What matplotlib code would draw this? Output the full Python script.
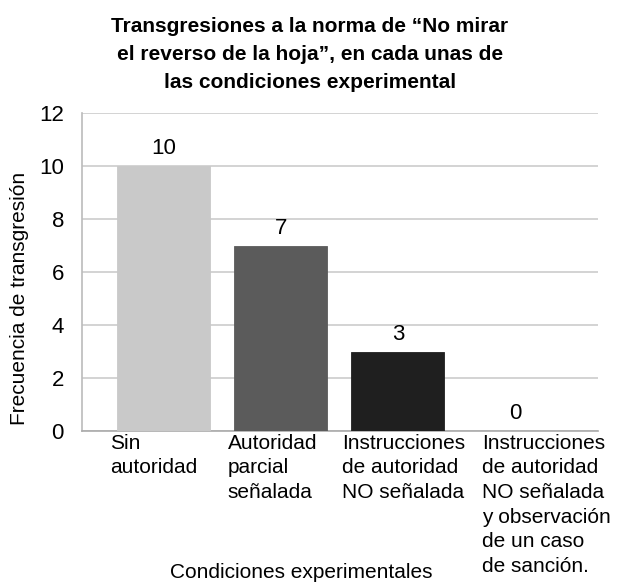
import matplotlib.pyplot as plt
import numpy as np

plt.rcParams['font.family'] = ['Liberation Sans', 'DejaVu Sans']

# datos
condiciones = ["Sin\nautoridad",
               "Autoridad\nparcial\nseñalada",
               "Instrucciones\nde autoridad\nNO señalada",
               "Instrucciones\nde autoridad\nNO señalada\ny observación\nde un caso\nde sanción."]
frecuencias = [10, 7, 3, 0]
colores = ['#c9c9c9', '#5b5b5b', '#1f1f1f', '#888888']

fig = plt.figure(figsize=(6.24, 5.86), dpi=100)
ax = fig.add_axes([82/624, 1-431/586, 516/624, 318/586])

x = np.arange(len(frecuencias))
bars = ax.bar(x, frecuencias, width=0.795, color=colores, linewidth=0.6, zorder=3)
for b, c in zip(bars, colores):
    b.set_edgecolor(c)

# etiquetas de valor
for xi, v in zip(x, frecuencias):
    ax.text(xi, v + 0.25, str(v), ha='center', va='bottom', fontsize=16)

ax.set_xlim(-0.70, 3.71)
ax.set_ylim(0, 12)
ax.set_yticks(range(0, 13, 2))
ax.yaxis.grid(True, color='#cccccc', linewidth=1.2, zorder=0)
ax.tick_params(axis='y', length=0, pad=13, labelsize=16)
ax.set_xticks([])

for s in ['top', 'right']:
    ax.spines[s].set_visible(False)
ax.spines['left'].set_color('#bbbbbb')
ax.spines['bottom'].set_color('#aaaaaa')
ax.spines['left'].set_linewidth(1.2)
ax.spines['bottom'].set_linewidth(1.2)

# etiquetas de categoria alineadas a la izquierda
desplaz = [-0.462, -0.453, -0.479, -0.28]
for xi, lab, d in zip(x, condiciones, desplaz):
    ax.text(xi + d, -0.008, lab, transform=ax.get_xaxis_transform(),
            ha='left', va='top', fontsize=15, linespacing=1.38)

fig.text(301/624, 1-572/586, "Condiciones experimentales", ha='center', va='center', fontsize=15)
fig.text(20/624, 1-298/586, "Frecuencia de transgresión", rotation=90, ha='center', va='center', fontsize=15)

fig.text(310/624, 1-54/586,
         "Transgresiones a la norma de “No mirar\nel reverso de la hoja”, en cada unas de\nlas condiciones experimental",
         ha='center', va='center', fontsize=15, fontweight='bold', linespacing=1.6)

fig.savefig('out.png', dpi=100, facecolor='white')
